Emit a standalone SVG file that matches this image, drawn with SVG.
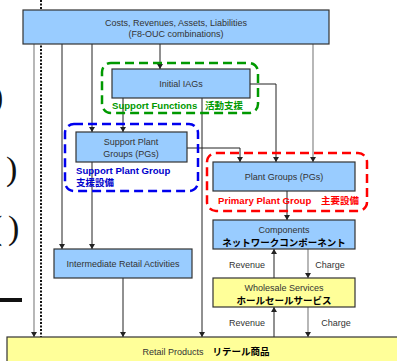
<svg xmlns="http://www.w3.org/2000/svg" width="397" height="361" viewBox="0 0 397 361">
<defs>
<marker id="ah" markerWidth="6" markerHeight="6" refX="5" refY="3" orient="auto" markerUnits="userSpaceOnUse">
<path d="M0,0 L5,3 L0,6 Z" fill="#222"/>
</marker>
<style>
.box{stroke:#333;stroke-width:1.2}
.blue{fill:#99ccff}
.yel{fill:#ffff99}
.t{font-family:"Liberation Sans",Arial,sans-serif;font-size:9px;fill:#333;text-anchor:middle}
.jp{font-family:"Noto Sans CJK JP",sans-serif;font-size:9.5px;font-weight:bold;fill:#000;text-anchor:middle}
.lab{font-family:"Liberation Sans",Arial,sans-serif;font-size:9.6px;font-weight:bold}
.ln{stroke:#222;stroke-width:1;fill:none}
.gl{stroke:#888;stroke-width:1.2;fill:none}
.arr{marker-end:url(#ah)}
.grp{fill:none;stroke-width:2.5;stroke-dasharray:9,5}
</style>
</defs>
<rect width="397" height="361" fill="#fff"/>

<!-- background artifacts -->
<g id="artifacts" font-family="'Liberation Serif',serif" font-size="34" fill="#111">
<text x="-8" y="108">)</text>
<text x="6" y="180">)</text>
<text x="-9" y="239">(</text>
<text x="8" y="239">)</text>
<rect x="0" y="298" width="22" height="4" fill="#111"/>
</g>

<g id="connectors">
<line x1="41" y1="0" x2="41" y2="337" stroke="#111" stroke-width="2" stroke-dasharray="2,1.5"/>
<line class="gl arr" x1="34" y1="44" x2="34" y2="337"/>
<line class="ln arr" x1="62" y1="44" x2="62" y2="249"/>
<line class="ln arr" x1="92" y1="44" x2="92" y2="132"/>
<line class="ln arr" x1="92" y1="162" x2="92" y2="249"/>
<line class="ln arr" x1="160" y1="44" x2="160" y2="69"/>
<line class="gl arr" x1="313" y1="44" x2="313" y2="162"/>
<line class="ln arr" x1="123" y1="98" x2="123" y2="132"/>
<line class="ln arr" x1="202" y1="98" x2="202" y2="337"/>
<polyline class="ln arr" points="250,84 276,84 276,162"/>
<polyline class="ln arr" points="187,148 240,148 240,162"/>
<line class="ln arr" x1="123" y1="278" x2="123" y2="337"/>
<line class="ln arr" x1="287" y1="191" x2="287" y2="220"/>
<line class="ln arr" x1="274" y1="278" x2="274" y2="249"/>
<line class="gl arr" x1="308" y1="249" x2="308" y2="278"/>
<line class="ln arr" x1="274" y1="337" x2="274" y2="307"/>
<line class="gl arr" x1="308" y1="307" x2="308" y2="337"/>
<text class="t" x="247" y="268">Revenue</text>
<text class="t" x="330" y="268">Charge</text>
<text class="t" x="247" y="326">Revenue</text>
<text class="t" x="336" y="326">Charge</text>
</g>

<g id="top">
<rect class="box blue" x="23" y="10" width="306" height="34"/>
<text class="t" x="176" y="26">Costs, Revenues, Assets, Liabilities</text>
<text class="t" x="176" y="37">(F8-OUC combinations)</text>
</g>

<g id="support-functions">
<rect class="grp" x="102" y="63" width="156" height="50" rx="9" stroke="#009900"/>
<rect class="box blue" x="112" y="69" width="138" height="29"/>
<text class="t" x="181" y="87">Initial IAGs</text>
<text class="lab" x="112" y="109" fill="#009900">Support Functions</text>
<text class="jp" x="224" y="109" style="fill:#009900">活動支援</text>
</g>

<g id="support-plant">
<rect class="grp" x="65" y="124" width="133" height="67" rx="9" stroke="#0000ee"/>
<rect class="box blue" x="76" y="132" width="111" height="30"/>
<text class="t" x="131" y="145">Support Plant</text>
<text class="t" x="131" y="157">Groups (PGs)</text>
<text class="lab" x="76" y="174" fill="#0000cc">Support Plant Group</text>
<text class="jp" x="76" y="186" style="fill:#0000cc;text-anchor:start">支援設備</text>
</g>

<g id="primary-plant">
<rect class="grp" x="207" y="153" width="160" height="58" rx="9" stroke="#ff0000"/>
<rect class="box blue" x="213" y="162" width="142" height="29"/>
<text class="t" x="284" y="180">Plant Groups (PGs)</text>
<text class="lab" x="218" y="204" fill="#ff0000">Primary Plant Group</text>
<text class="jp" x="340" y="204" style="fill:#ff0000">主要設備</text>
</g>

<g id="components">
<rect class="box blue" x="213" y="220" width="142" height="29"/>
<text class="t" x="284" y="233">Components</text>
<text class="jp" x="284" y="246">ネットワークコンポーネント</text>
</g>

<g id="intermediate">
<rect class="box blue" x="54" y="249" width="138" height="29"/>
<text class="t" x="123" y="267">Intermediate Retail Activities</text>
</g>

<g id="wholesale">
<rect class="box yel" x="213" y="278" width="142" height="29"/>
<text class="t" x="284" y="291">Wholesale Services</text>
<text class="jp" x="284" y="304">ホールセールサービス</text>
</g>

<g id="retail">
<rect class="box yel" x="7" y="337" width="400" height="30"/>
<text class="t" x="173" y="355">Retail Products</text>
<text class="jp" x="241" y="355">リテール商品</text>
</g>
</svg>
